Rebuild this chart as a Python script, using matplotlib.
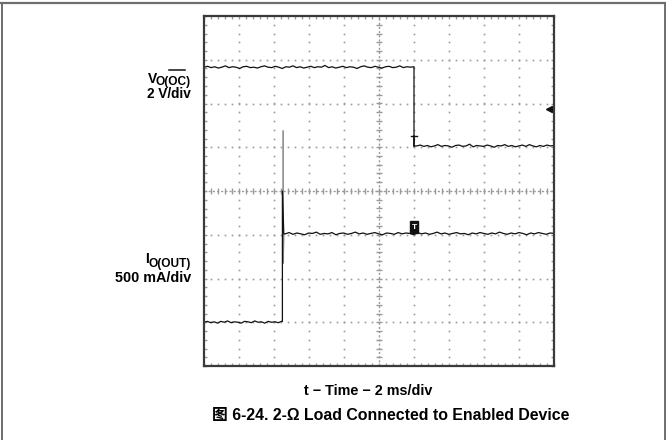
import numpy as np
import matplotlib
matplotlib.use("Agg")
import matplotlib.pyplot as plt
from matplotlib.lines import Line2D
from matplotlib.patches import Rectangle

plt.rcParams['font.family'] = ['Liberation Sans', 'Noto Sans CJK SC', 'DejaVu Sans']

# ---- data (screen divisions: x 0..10, y 0..8) ----
v_high = [6.83, 6.85, 6.82, 6.84, 6.81, 6.83, 6.86, 6.82, 6.84, 6.83, 6.80, 6.84,
          6.85, 6.82, 6.83, 6.81, 6.84, 6.86, 6.83, 6.82, 6.85, 6.83, 6.80, 6.84,
          6.83, 6.86, 6.82, 6.84, 6.81, 6.83, 6.85, 6.82, 6.84, 6.83, 6.87, 6.82,
          6.84, 6.81, 6.83, 6.85, 6.82, 6.84, 6.83, 6.80, 6.84, 6.86, 6.83, 6.82,
          6.85, 6.83, 6.81, 6.84, 6.85, 6.82, 6.83, 6.86, 6.82, 6.84, 6.83, 6.84]
v_low = [5.03, 5.05, 5.02, 5.04, 5.01, 5.03, 5.06, 5.02, 5.04, 5.03, 5.00, 5.04,
         5.05, 5.02, 5.03, 5.07, 5.01, 5.04, 5.03, 5.02, 5.05, 5.03, 5.00, 5.04,
         5.03, 5.06, 5.02, 5.04, 5.01, 5.03, 5.05, 5.02, 5.06, 5.03, 5.01, 5.04,
         5.02, 5.05, 5.03, 5.04]
i_low = [1.00, 1.02, 0.99, 1.01, 0.98, 1.02, 1.00, 1.03, 0.99, 1.01, 1.00, 0.98,
         1.02, 1.01, 0.99, 1.03, 1.00, 1.01, 0.98, 1.02, 1.00, 1.01, 0.99, 1.02]
i_high = [3.02, 3.05, 3.01, 3.04, 3.02, 3.00, 3.04, 3.03, 3.06, 3.01, 3.03, 3.02,
          3.05, 3.00, 3.03, 3.04, 3.01, 3.03, 3.06, 3.02, 3.04, 3.01, 3.03, 3.05,
          3.02, 3.00, 3.04, 3.03, 3.01, 3.05, 3.02, 3.04, 3.03, 3.00, 3.05, 3.02,
          3.04, 3.01, 3.03, 3.06, 3.02, 3.04, 3.01, 3.03, 3.05, 3.02, 3.03, 3.00,
          3.04, 3.02, 3.05, 3.03, 3.01, 3.04, 3.02, 3.06, 3.03, 3.01, 3.04, 3.02,
          3.05, 3.03, 3.00, 3.04, 3.02, 3.05, 3.03, 3.01, 3.04, 3.03]
v_edge_t = 6.0
i_edge_t = 2.24
i_spike = [5.37, 2.35]
v_trig_level = 5.87
title_text = "图 6-24. 2-Ω Load Connected to Enabled Device"
xlabel_text = "t − Time − 2 ms/div"

W, H = 666, 440
fig = plt.figure(figsize=(W / 100, H / 100), dpi=100)
ax = fig.add_axes([204 / W, 1 - 366 / H, 350 / W, 350 / H])
ax.set_xlim(0, 10)
ax.set_ylim(0, 8)

grid_c = '#9a9a9a'
# dotted grid
for gx in [1, 2, 3, 4, 6, 7, 8, 9]:
    ys = np.arange(0.2, 8, 0.2)
    ax.plot(np.full_like(ys, gx), ys, ls='none', marker='s', ms=1.2, mfc=grid_c, mec='none')
for gy in [1, 2, 3, 5, 6, 7]:
    xs = np.arange(0.2, 10, 0.2)
    ax.plot(xs, np.full_like(xs, gy), ls='none', marker='s', ms=1.2, mfc=grid_c, mec='none')
# center cross with ticks
ax.axvline(5, color=grid_c, lw=1, ls=(0, (1.5, 1.5)))
ax.axhline(4, color=grid_c, lw=1, ls=(0, (1.5, 1.5)))
ys = np.arange(0.2, 8, 0.2)
ax.plot(np.full_like(ys, 5), ys, ls='none', marker='_', ms=5, mew=1, color=grid_c)
xs = np.arange(0.2, 10, 0.2)
ax.plot(xs, np.full_like(xs, 4), ls='none', marker='|', ms=5, mew=1, color=grid_c)

# border ticks
ax.set_xticks(np.arange(0, 11, 1))
ax.set_yticks(np.arange(0, 9, 1))
ax.set_xticks(np.arange(0, 10.01, 0.2), minor=True)
ax.set_yticks(np.arange(0, 8.01, 0.2), minor=True)
ax.tick_params(which='both', direction='in', top=True, right=True,
               labelbottom=False, labelleft=False, color=grid_c, length=2.5, width=1)
for s in ax.spines.values():
    s.set_color('#3a3a3a')
    s.set_linewidth(1.6)

# V trace
t_vh = np.linspace(0, v_edge_t, len(v_high))
t_vl = np.linspace(v_edge_t + 0.08, 10, len(v_low))
vt = np.concatenate([t_vh, [v_edge_t, v_edge_t], t_vl])
vv = np.concatenate([v_high, [v_high[-1], v_low[0]], v_low])
ax.plot(vt, vv, color='#111111', lw=0.9)
# T marker on V edge
ax.plot([v_edge_t - 0.08, v_edge_t + 0.09], [v_low[0] + 0.22] * 2, color='#111111', lw=1)
ax.plot([v_edge_t, v_edge_t], [v_low[0], v_low[0] + 0.22], color='#111111', lw=1.2)

# I trace
t_il = np.linspace(0, i_edge_t - 0.02, len(i_low))
t_ih = np.linspace(i_edge_t + 0.08, 10, len(i_high))
ax.plot([i_edge_t + 0.02, i_edge_t + 0.02, i_edge_t + 0.04],
        [i_spike[0], i_spike[1], i_high[0]], color='#777777', lw=1)
it = np.concatenate([t_il, [i_edge_t, i_edge_t, i_edge_t + 0.04], t_ih])
iv = np.concatenate([i_low, [i_low[-1], 4.0, i_high[0]], i_high])
ax.plot(it, iv, color='#111111', lw=0.9)

# trigger box
ax.add_patch(Rectangle((5.89, 3.03), 0.23, 0.28, facecolor='#111111', edgecolor='#111111', zorder=5))
ax.text(6.005, 3.17, 'T', color='white', fontsize=6, fontweight='bold',
        ha='center', va='center', zorder=6)

# trigger level arrow
ax.plot([9.86, 10], [v_trig_level] * 2, color='#111111', lw=1.2, clip_on=False)
ax.plot([9.86], [v_trig_level], marker='<', ms=5, color='#111111', clip_on=False)

# labels
def fy(py):
    return 1 - py / H

def fx(px):
    return px / W

# V_O(OC-bar)
fig.text(fx(147.5), fy(83), 'V', fontsize=10, fontweight='bold', ha='left', va='baseline')
fig.text(fx(191), fy(85), 'O(OC)', fontsize=8.6, fontweight='bold', ha='right', va='baseline')
fig.add_artist(Line2D([fx(169), fx(185)], [fy(70.5), fy(70.5)], transform=fig.transFigure,
                      color='#111111', lw=1.1))
fig.text(fx(191), fy(97.5), '2 V/div', fontsize=9.8, fontweight='bold', ha='right', va='baseline')
# I_O(OUT)
fig.text(fx(145.5), fy(263), 'I', fontsize=10, fontweight='bold', ha='left', va='baseline')
fig.text(fx(191), fy(266.5), 'O(OUT)', fontsize=8.6, fontweight='bold', ha='right', va='baseline')
fig.text(fx(191), fy(282), '500 mA/div', fontsize=10.4, fontweight='bold', ha='right', va='baseline')

fig.text(fx(368), fy(395), xlabel_text, fontsize=10.4, fontweight='bold', ha='center', va='baseline')
fig.text(fx(391), fy(420), title_text, fontsize=11.4, fontweight='bold', ha='center', va='baseline')

# outer frame
frame_c = '#6e6e6e'
fig.add_artist(Line2D([0, 1], [fy(3.5), fy(3.5)], transform=fig.transFigure, color=frame_c, lw=1.6))
fig.add_artist(Line2D([fx(1.5), fx(1.5)], [fy(3.5), 0], transform=fig.transFigure, color=frame_c, lw=1.4))
fig.add_artist(Line2D([fx(664.5), fx(664.5)], [fy(3.5), 0], transform=fig.transFigure, color=frame_c, lw=1.4))

fig.savefig('out.png', dpi=100)
